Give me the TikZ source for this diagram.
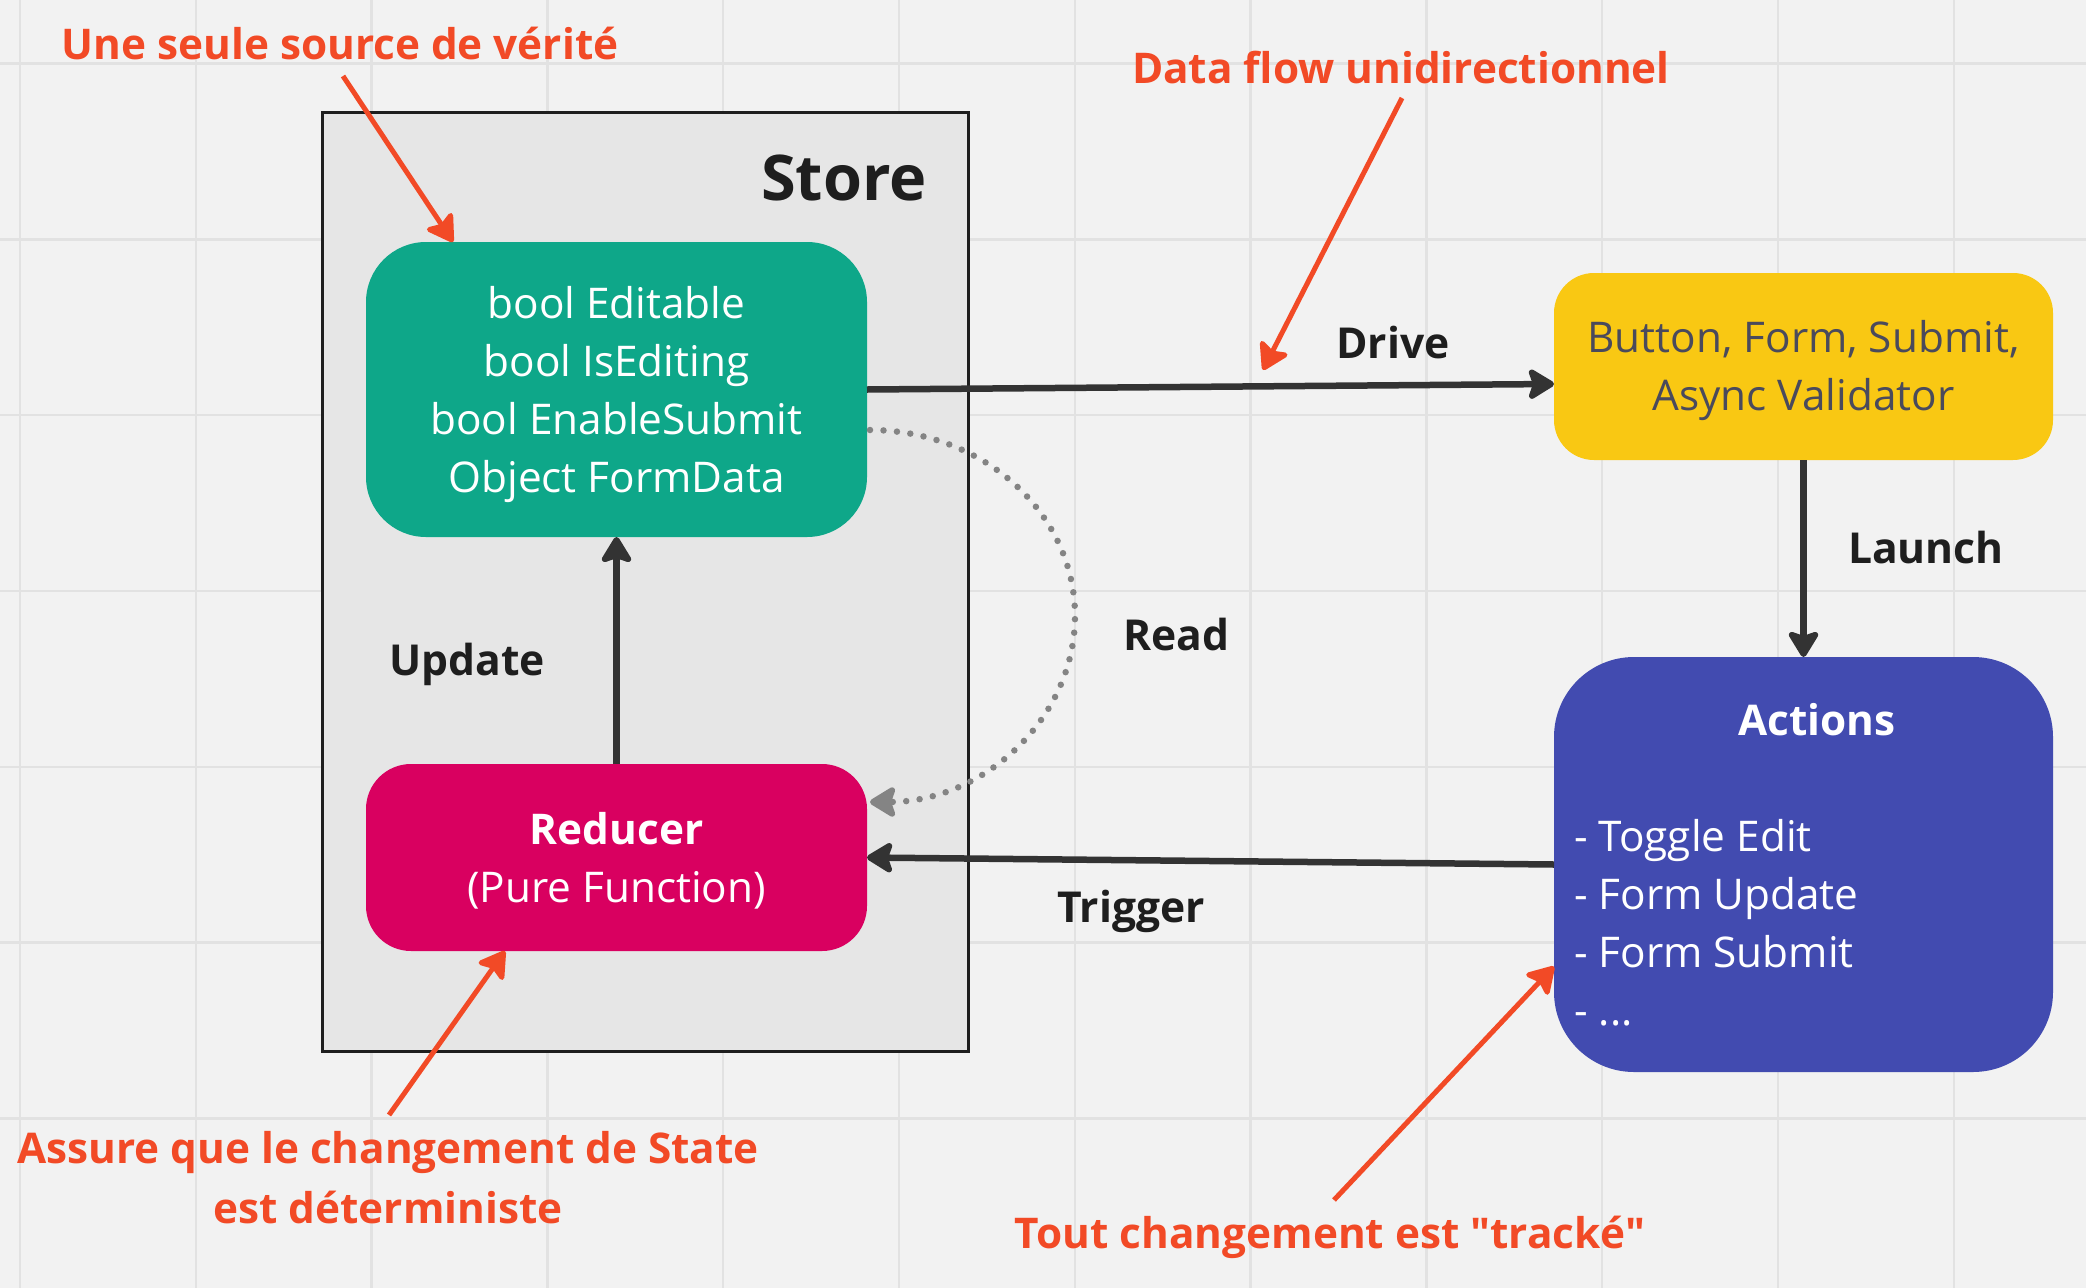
\documentclass[tikz,border=0pt]{standalone}
\usepackage{fontspec}
\setmainfont{Open Sans}
\usetikzlibrary{arrows.meta,calc}

\newcommand{\plainquote}{\XeTeXglyph\XeTeXcharglyph"22\relax}

\definecolor{bgC}{HTML}{F2F2F2}
\definecolor{gridC}{HTML}{E2E2E2}
\definecolor{storeC}{HTML}{E6E6E6}
\definecolor{inkC}{HTML}{1E1E1E}
\definecolor{arrowC}{HTML}{333333}
\definecolor{readC}{HTML}{848484}
\definecolor{noteC}{HTML}{F24A26}
\definecolor{stateC}{HTML}{0EA789}
\definecolor{reducerC}{HTML}{D90060}
\definecolor{uiC}{HTML}{F9C813}
\definecolor{uiTextC}{HTML}{4A4A5C}
\definecolor{actionC}{HTML}{424BB0}

\tikzset{
  gridline/.style={draw=gridC, line width=2.5pt},
  storebox/.style={draw=inkC, fill=storeC, line width=3pt, inner sep=0pt, outer sep=0pt},
  roundbox/.style={draw=none, inner sep=0pt, outer sep=0pt},
  boxtext/.style={inner sep=0pt, anchor=base, text=white, font=\fontsize{42.3}{58}\selectfont},
  lbl/.style={inner sep=0pt, anchor=base, text=inkC, font=\fontsize{42.6}{58}\selectfont\bfseries},
  note/.style={inner sep=0pt, anchor=base, text=noteC, font=\fontsize{42.3}{60}\selectfont\bfseries},
  flow/.style={draw=arrowC, line width=6.5pt, -{Stealth[length=30pt, width=36pt, inset=6pt, round]}},
  readflow/.style={draw=readC, line width=6.5pt, line cap=round, dash pattern=on 0pt off 13.5pt,
     -{Stealth[length=30pt, width=36pt, inset=6pt, round]}},
  notearrow/.style={draw=noteC, line width=5pt, -{Stealth[length=30pt, width=36pt, inset=6pt, round]}},
}

\begin{document}
\begin{tikzpicture}[x=1pt, y=-1pt]
\fill[bgC] (0,0) rectangle (2086,1288);
\useasboundingbox (0,0) rectangle (2086,1288);

% grid
\foreach \i in {0,...,11} \draw[gridline] ({20+175.8*\i},0) -- ({20+175.8*\i},1288);
\foreach \j in {0,...,6} \draw[gridline] (0,{63.6+175.8*\j}) -- (2086,{63.6+175.8*\j});

% store
\node[storebox, minimum width=646pt, minimum height=939pt] (store) at (645,581.5) {};
\node[inner sep=0pt, anchor=base east, text=inkC, font=\fontsize{63}{70}\selectfont\bfseries] (storeTitle) at (927,200) {Store};

% boxes
\node[roundbox, fill=stateC, minimum width=501pt, minimum height=295pt, rounded corners=60pt] (state) at (616.5,389.5) {};
\node[boxtext] (stateText) at (616.5,318) {\begin{tabular}[t]{@{}c@{}}bool Editable\\bool IsEditing\\bool EnableSubmit\\Object FormData\end{tabular}};

\node[roundbox, fill=reducerC, minimum width=501pt, minimum height=187pt, rounded corners=45pt] (reducer) at (616.5,857.5) {};
\node[boxtext] (reducerText) at (616.5,844) {\begin{tabular}[t]{@{}c@{}}\textbf{Reducer}\\(Pure Function)\end{tabular}};

\node[roundbox, fill=uiC, minimum width=499pt, minimum height=187pt, rounded corners=40pt] (ui) at (1803.5,366.5) {};
\node[boxtext, text=uiTextC] (uiText) at (1803.5,352.7) {\begin{tabular}[t]{@{}c@{}}Button, Form, Submit,\\Async Validator\end{tabular}};

\node[roundbox, fill=actionC, minimum width=499pt, minimum height=415pt, rounded corners=80pt] (actions) at (1803.5,864.5) {};
\node[boxtext, font=\fontsize{42.3}{58}\selectfont\bfseries] (actionsTitle) at (1817,735) {Actions};
\node[boxtext, anchor=base west] (actionsList) at (1574,851) {\begin{tabular}[t]{@{}l@{}}- Toggle Edit\\- Form Update\\- Form Submit\\- ...\end{tabular}};

% connectors
\draw[flow] (reducer.north) -- (state.south);
\draw[flow] (state.east) -- ($(ui.west)+(0,17.5)$);
\draw[flow] (ui.south) -- (actions.north);
\draw[flow] (actions.west) -- (reducer.east);
\coordinate (readStart) at ($(state.east)+(3,40.5)$);
\draw[readflow] (readStart) arc[start angle=90, end angle=-90, x radius=205pt, y radius=186pt];

% labels
\node[lbl] (updateLbl) at (467,675) {Update};
\node[lbl] (driveLbl) at (1393,358) {Drive};
\node[lbl] (launchLbl) at (1926,563) {Launch};
\node[lbl] (readLbl) at (1176,650) {Read};
\node[lbl] (triggerLbl) at (1131,922) {Trigger};

% annotations
\node[note] (note1) at (340,59) {Une seule source de vérité};
\node[note] (note2) at (1401,83) {Data flow unidirectionnel};
\node[note] (note3) at (388,1163) {\begin{tabular}[t]{@{}c@{}}Assure que le changement de State\\est déterministe\end{tabular}};
\node[note] (note4) at (1330,1248) {Tout changement est \plainquote tracké\plainquote};

\coordinate (n1s) at (343,76);
\draw[notearrow] (n1s) -- ($(state.north west)+(87,0)$);
\coordinate (n2s) at (1402,98);
\coordinate (n2e) at (1263,370);
\draw[notearrow] (n2s) -- (n2e);
\coordinate (n3s) at (389,1115);
\draw[notearrow] (n3s) -- ($(reducer.south west)+(139,0)$);
\coordinate (n4s) at (1334,1200);
\draw[notearrow] (n4s) -- ($(actions.west)+(0,102)$);
\end{tikzpicture}
\end{document}
